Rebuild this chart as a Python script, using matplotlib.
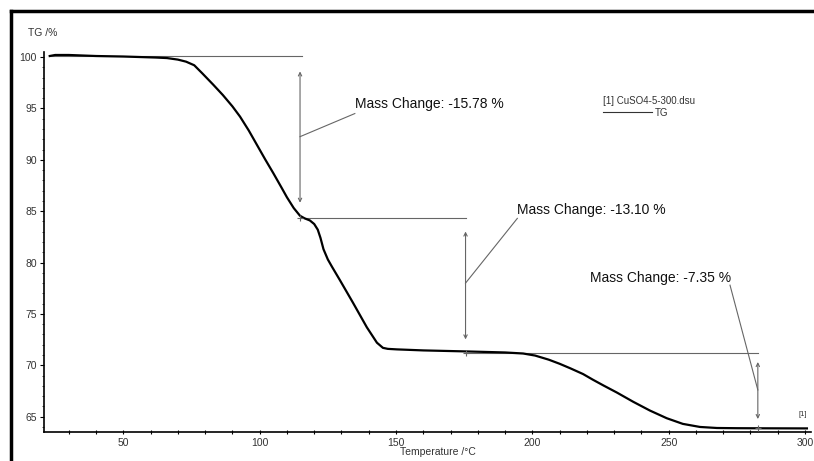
import numpy as np
import matplotlib
matplotlib.use("Agg")
import matplotlib.pyplot as plt
from matplotlib.lines import Line2D
from matplotlib.ticker import MultipleLocator

plt.rcParams['font.family'] = ['Liberation Sans', 'DejaVu Sans']

# TG curve
temp = [23, 25, 30, 40, 50, 56, 62, 66, 70, 73, 76, 79, 83, 86.5, 90, 92.8, 96, 99,
        102, 105, 108, 110, 112.5, 114.8, 116.5, 118.4, 120, 121.3, 122.3, 123.4, 125,
        126.5, 129.4, 134.2, 139.3, 143, 145.2, 147, 150.3, 160, 176, 190, 196.6, 201,
        206, 210, 214, 218.6, 222.2, 226, 231, 237, 243.1, 249.3, 255.2, 261.5, 267.7,
        275, 285, 300.7]
tg = [100.1, 100.2, 100.2, 100.1, 100.05, 100.0, 99.95, 99.9, 99.75, 99.55, 99.2, 98.4,
      97.3, 96.3, 95.2, 94.2, 92.85, 91.45, 90.05, 88.7, 87.3, 86.35, 85.3, 84.55, 84.3,
      84.1, 83.75, 83.2, 82.4, 81.3, 80.3, 79.6, 78.3, 76.1, 73.7, 72.2, 71.7, 71.6,
      71.55, 71.45, 71.35, 71.25, 71.15, 70.95, 70.55, 70.15, 69.7, 69.15, 68.6, 68.05,
      67.35, 66.45, 65.6, 64.85, 64.3, 64.0, 63.9, 63.88, 63.87, 63.86]

start_level = 100.1
mass_changes = [-15.78, -13.10, -7.35]
step_temps = [114.8, 175.5, 282.7]          # where the double arrows sit
line_starts = [23, 114.8, 175.5]
line_ends = [115.4, 175.5, 282.7]
label_pos = [(135, 95.4), (194.5, 85.1), (221.1, 78.5)]
leader_from = [92.25, 78.0, 67.6]
leader_to = [(134.9, 94.5), (194.5, 84.3), (272.5, 77.8)]
arrow_gaps = [1.5, 1.3, 0.9]

levels = [start_level]
for mc in mass_changes:
    levels.append(levels[-1] + mc)

fig = plt.figure(figsize=(8.14, 4.61), dpi=100)
ax = fig.add_axes([44 / 814, 29 / 461, 767 / 814, 380 / 461])

grey = '#666666'
ax.plot(temp, tg, color='black', lw=1.6, zorder=3)

for i, mc in enumerate(mass_changes):
    top, bot = levels[i], levels[i + 1]
    ax.plot([line_starts[i], line_ends[i]], [top, top], color=grey, lw=0.8)
    g = arrow_gaps[i]
    ax.annotate('', xy=(step_temps[i], top - g), xytext=(step_temps[i], bot + g),
                arrowprops=dict(arrowstyle='<->', color=grey, lw=0.8,
                                mutation_scale=6, shrinkA=0, shrinkB=0))
    ax.plot(step_temps[i], bot, marker='+', color=grey, ms=4, mew=0.8, zorder=4)
    ax.plot([step_temps[i], leader_to[i][0]], [leader_from[i], leader_to[i][1]],
            color=grey, lw=0.8)
    ax.text(label_pos[i][0], label_pos[i][1], f'Mass Change: {mc:.2f} %',
            fontsize=10, color='#111111', ha='left', va='center')

# legend-like label
ax.text(225.9, 95.7, '[1] CuSO4-5-300.dsu', fontsize=7, color='#333333', va='center')
ax.plot([225.9, 243.9], [94.65, 94.65], color='#333333', lw=0.8)
ax.text(245, 94.55, 'TG', fontsize=7, color='#333333', va='center')
ax.text(299.2, 65.2, '[1]', fontsize=5.5, color='#333333', ha='center', va='center')

ax.set_xlim(20.9, 302.2)
ax.set_ylim(63.51, 100.49)
ax.xaxis.set_major_locator(MultipleLocator(50))
ax.xaxis.set_minor_locator(MultipleLocator(10))
ax.yaxis.set_major_locator(MultipleLocator(5))
ax.yaxis.set_minor_locator(MultipleLocator(1))
ax.spines['top'].set_visible(False)
ax.spines['right'].set_visible(False)
for s in ('left', 'bottom'):
    ax.spines[s].set_linewidth(1.2)
ax.tick_params(axis='both', which='major', labelsize=7.5, labelcolor='#333333',
               length=3, width=0.8, pad=2)
ax.tick_params(axis='x', which='both', direction='inout')
ax.tick_params(axis='x', which='minor', length=3, width=0.8)
ax.tick_params(axis='y', which='minor', length=1.5, width=0.5)
ax.tick_params(axis='x', which='major', pad=3)

fig.text(28 / 814, 1 - 33 / 461, 'TG /%', fontsize=7.5, color='#333333',
         ha='left', va='center')
fig.text(438 / 814, 1 - 452 / 461, 'Temperature /°C', fontsize=7.5, color='#333333',
         ha='center', va='center')

# black frame (left and top edges visible)
fig.add_artist(Line2D([10.5 / 814, 10.5 / 814], [0, 1 - 11 / 461], color='black',
                      lw=2.5, transform=fig.transFigure))
fig.add_artist(Line2D([10.5 / 814, 1], [1 - 11 / 461, 1 - 11 / 461], color='black',
                      lw=2.5, transform=fig.transFigure))

fig.savefig('out.png', dpi=100)
